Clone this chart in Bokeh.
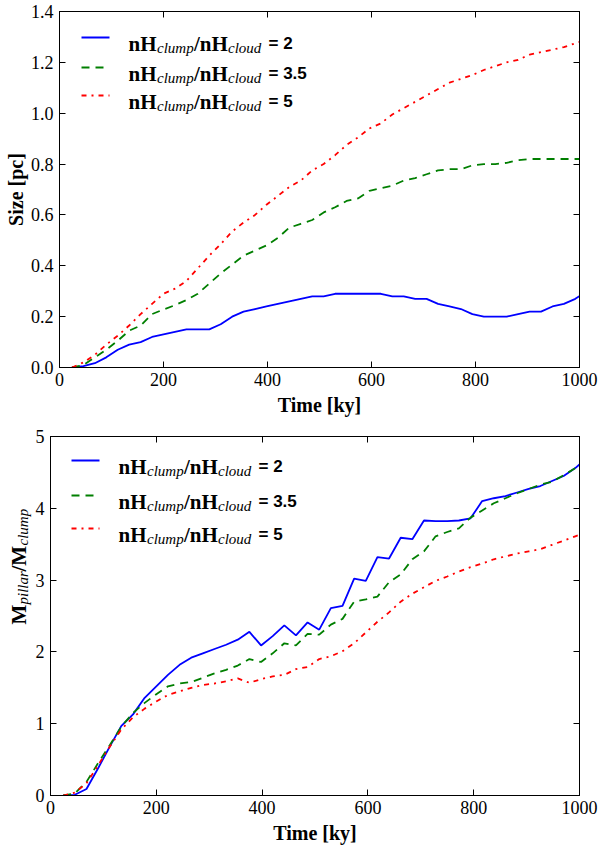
from math import pi

from bokeh.plotting import figure
from bokeh.layouts import column, row
from bokeh.models import (Range1d, FixedTicker, LinearAxis, Label, Arrow,
                          PrintfTickFormatter, CustomJSTickFormatter)
from bokeh.embed import file_html
from bokeh.resources import INLINE

# simulation outputs
time_ky = [24, 46, 68, 90, 112, 134, 156, 178, 200, 222, 244, 266, 288, 310,
           332, 354, 376, 398, 420, 442, 464, 486, 508, 530, 552, 574, 596,
           618, 640, 662, 684, 706, 728, 750, 772, 794, 816, 838, 860, 882,
           904, 926, 948, 970, 992, 1014]

size_r2 = [0.0, 0.005, 0.017, 0.04, 0.07, 0.09, 0.10, 0.12, 0.13, 0.14, 0.15,
           0.15, 0.15, 0.17, 0.20, 0.22, 0.23, 0.24, 0.25, 0.26, 0.27, 0.28,
           0.28, 0.29, 0.29, 0.29, 0.29, 0.29, 0.28, 0.28, 0.27, 0.27, 0.25,
           0.24, 0.23, 0.21, 0.20, 0.20, 0.20, 0.21, 0.22, 0.22, 0.24, 0.25,
           0.27, 0.30]
size_r35 = [0.0, 0.01, 0.04, 0.07, 0.105, 0.145, 0.165, 0.21, 0.228, 0.245,
            0.265, 0.29, 0.33, 0.37, 0.405, 0.44, 0.46, 0.48, 0.51, 0.55, 0.565,
            0.58, 0.61, 0.63, 0.655, 0.665, 0.695, 0.705, 0.715, 0.735, 0.745,
            0.76, 0.775, 0.78, 0.78, 0.795, 0.80, 0.80, 0.805, 0.815, 0.82,
            0.82, 0.82, 0.82, 0.82, 0.82]
size_r5 = [0.0, 0.02, 0.05, 0.09, 0.125, 0.165, 0.21, 0.25, 0.29, 0.31, 0.34,
           0.39, 0.44, 0.485, 0.535, 0.57, 0.60, 0.64, 0.675, 0.71, 0.735,
           0.775, 0.80, 0.835, 0.875, 0.905, 0.94, 0.96, 0.995, 1.02, 1.045,
           1.07, 1.095, 1.12, 1.135, 1.15, 1.17, 1.185, 1.20, 1.21, 1.23, 1.24,
           1.25, 1.26, 1.275, 1.29]

mass_r2 = [0.0, 0.01, 0.09, 0.38, 0.68, 0.97, 1.13, 1.36, 1.52, 1.68, 1.82,
           1.92, 1.98, 2.04, 2.10, 2.17, 2.28, 2.09, 2.22, 2.37, 2.23, 2.41,
           2.31, 2.61, 2.64, 3.02, 2.99, 3.32, 3.30, 3.59, 3.57, 3.83, 3.82,
           3.82, 3.83, 3.86, 4.10, 4.14, 4.17, 4.22, 4.27, 4.31, 4.38, 4.45,
           4.56, 4.70]
mass_r35 = [0.0, 0.03, 0.19, 0.45, 0.70, 0.96, 1.15, 1.29, 1.41, 1.52, 1.56,
            1.58, 1.64, 1.70, 1.75, 1.81, 1.90, 1.86, 1.98, 2.12, 2.09, 2.25,
            2.24, 2.38, 2.46, 2.70, 2.73, 2.77, 2.97, 3.08, 3.29, 3.40, 3.61,
            3.67, 3.72, 3.87, 3.97, 4.07, 4.14, 4.21, 4.27, 4.33, 4.37, 4.46,
            4.56, 4.66]
mass_r5 = [0.0, 0.04, 0.17, 0.42, 0.68, 0.92, 1.09, 1.21, 1.31, 1.40, 1.45,
           1.50, 1.54, 1.56, 1.59, 1.63, 1.57, 1.62, 1.66, 1.68, 1.76, 1.79,
           1.90, 1.94, 2.01, 2.12, 2.27, 2.42, 2.55, 2.70, 2.81, 2.90, 2.99,
           3.05, 3.12, 3.18, 3.23, 3.29, 3.33, 3.37, 3.40, 3.43, 3.49, 3.55,
           3.61, 3.67]

ratios = ["2", "3.5", "5"]
x_ticks = [0, 200, 400, 600, 800, 1000]
size_ticks = [0.0, 0.2, 0.4, 0.6, 0.8, 1.0, 1.2, 1.4]
mass_ticks = [0, 1, 2, 3, 4, 5]

SERIF = "Liberation Serif"
SANS = "Liberation Sans"
STYLES = [("#0000ff", "solid"), ("#007f00", "8 6"), ("#ff0000", "5 5 2 5")]
# pieces of "nH_clump/nH_cloud": text, x offset, baseline shift, style, size
RATIO_PIECES = [("nH", 0, 0, "bold", 21), ("clump", 28.5, -4, "italic", 15),
                ("/nH", 65.5, 0, "bold", 21), ("cloud", 99.5, -4, "italic", 15)]


def text(p, s, x, y, size, style="normal", font=SERIF, angle=0, align="left"):
    p.add_layout(Label(x=x, y=y, x_units="screen", y_units="screen", text=s,
                       text_font=font, text_font_size=f"{size}px",
                       text_font_style=style, text_color="black",
                       text_baseline="alphabetic", text_align=align,
                       angle=angle))


def style_axis(ax, ticker, fmt):
    ax.ticker = FixedTicker(ticks=ticker)
    if fmt is not None:
        ax.formatter = fmt
    ax.axis_line_color = "black"
    ax.major_tick_line_color = "black"
    ax.major_tick_in = 6
    ax.major_tick_out = 0
    ax.minor_tick_line_color = None
    ax.major_label_text_font = SERIF
    ax.major_label_text_font_size = "18px"
    ax.major_label_text_color = "black"
    ax.axis_label_text_font = SERIF
    ax.axis_label_text_font_size = "20px"
    ax.axis_label_text_font_style = "bold"
    ax.axis_label_text_color = "black"


def make_fig(width, height, left, top, bottom, y_end, y_ticks, y_fmt):
    p = figure(width=width, height=height, x_range=Range1d(0, 1000),
               y_range=Range1d(0, y_end), output_backend="svg",
               toolbar_location=None, min_border_left=left,
               min_border_right=19, min_border_top=top,
               min_border_bottom=bottom)
    p.grid.visible = False
    p.outline_line_color = "black"
    p.outline_line_width = 1
    p.background_fill_color = "white"
    p.border_fill_color = "white"
    style_axis(p.xaxis[0], x_ticks, None)
    style_axis(p.yaxis[0], y_ticks, y_fmt)
    p.yaxis[0].major_label_standoff = 6
    p.xaxis[0].axis_label = "Time [ky]"
    # matplotlib-style ticks on the top and right edges, no labels
    for place, ticks in (("above", x_ticks), ("right", y_ticks)):
        ax = LinearAxis(formatter=CustomJSTickFormatter(code="return ''"))
        style_axis(ax, ticks, None)
        ax.major_label_text_font_size = "0px"
        ax.major_label_standoff = 0
        p.add_layout(ax, place)
    return p


def add_key(p, x0, baselines):
    for (color, dash), ratio, y in zip(STYLES, ratios, baselines):
        p.add_layout(Arrow(end=None, x_start=x0, y_start=y + 6,
                           x_end=x0 + 28, y_end=y + 6,
                           start_units="screen", end_units="screen",
                           line_color=color, line_width=1.8, line_dash=dash))
        tx = x0 + 47
        for s, dx, dy, style, size in RATIO_PIECES:
            text(p, s, tx + dx, y + dy, size, style)
        text(p, "= " + ratio, tx + 140, y, 17, "bold", SANS)


def add_lines(p, series):
    for ys, (color, dash) in zip(series, STYLES):
        p.line(time_ky, ys, line_color=color, line_width=1.8, line_dash=dash)


# top panel: size of the structure
p1 = make_fig(598, 424, 59, 11, 57, 1.4, size_ticks,
              PrintfTickFormatter(format="%.1f"))
p1.xaxis[0].major_label_standoff = 4
p1.xaxis[0].axis_label_standoff = -3
p1.yaxis[0].axis_label = "Size [pc]"
p1.yaxis[0].axis_label_standoff = 1
add_lines(p1, [size_r2, size_r35, size_r5])
add_key(p1, 22, [324, 294, 266])

# bottom panel: pillar mass over clump mass
p2 = make_fig(566, 422, 16, 12, 44, 5, mass_ticks, None)
p2.xaxis[0].major_label_standoff = 3
p2.xaxis[0].axis_label_standoff = -1
add_lines(p2, [mass_r2, mass_r35, mass_r5])
add_key(p2, 21, [329, 294, 261])

# the y title of the bottom panel has subscripts, so it is built from
# pieces in a narrow strip left of the panel
ylab = figure(width=32, height=422, x_range=Range1d(0, 1),
              y_range=Range1d(0, 1), output_backend="svg",
              toolbar_location=None, x_axis_location=None,
              y_axis_location=None, min_border=0)
ylab.grid.visible = False
ylab.outline_line_color = None
ylab.border_fill_color = "white"
ylab.background_fill_color = "white"
for s, along, shift, style, size in [("M", 171, 0, "bold", 21),
                                     ("pillar", 191, 4, "italic", 15),
                                     ("/M", 224, 0, "bold", 21),
                                     ("clump", 250, 4, "italic", 15)]:
    text(ylab, s, 18 + shift, along, size, style, angle=pi / 2)

layout = column(p1, row(ylab, p2, spacing=0), spacing=0)
open("out.html", "w").write(file_html(layout, INLINE))
